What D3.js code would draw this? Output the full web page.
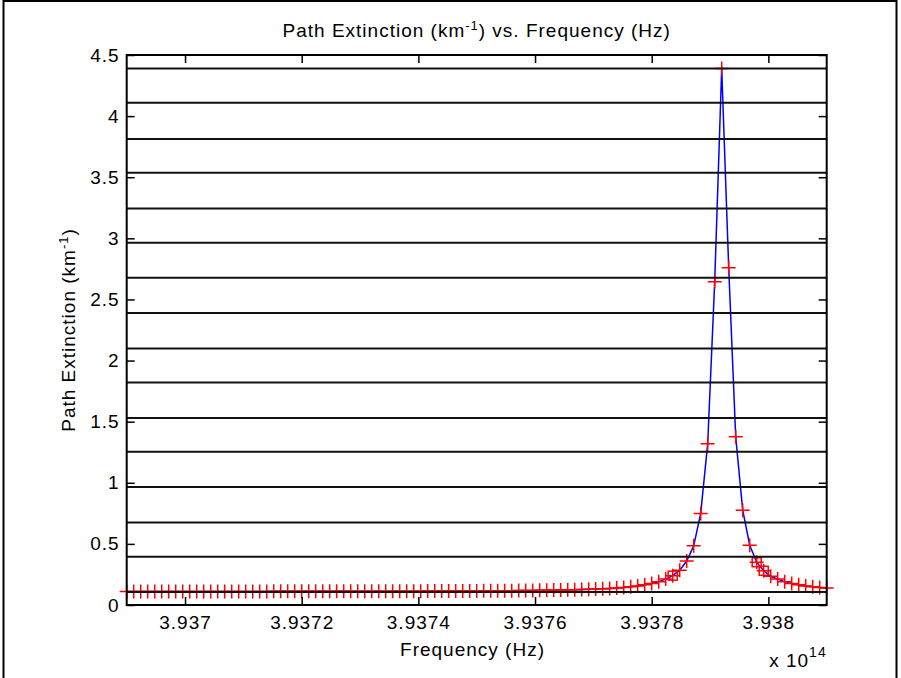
<!DOCTYPE html>
<html>
<head>
<meta charset="utf-8">
<script src="https://cdn.jsdelivr.net/npm/d3@7"></script>
<style>
  html, body { margin: 0; padding: 0; background: #fff; }
  svg { display: block; }
  text { font-family: "Liberation Sans", Arial, Helvetica, sans-serif; fill: #000; letter-spacing: 1px; }
</style>
</head>
<body>
<svg id="chart" width="901" height="678"></svg>
<script>
// ---------- data (frequencies in units of 1e14 Hz) ----------
const freqs = [
  3.936900, 3.936912, 3.936924, 3.936936, 3.936948, 3.936960, 3.936972, 3.936984, 3.936996, 3.937008,
  3.937020, 3.937032, 3.937044, 3.937056, 3.937068, 3.937080, 3.937092, 3.937104, 3.937116, 3.937128,
  3.937140, 3.937152, 3.937164, 3.937176, 3.937188, 3.937200, 3.937212, 3.937224, 3.937236, 3.937248,
  3.937260, 3.937272, 3.937284, 3.937296, 3.937308, 3.937320, 3.937332, 3.937344, 3.937356, 3.937368,
  3.937380, 3.937392, 3.937404, 3.937416, 3.937428, 3.937440, 3.937452, 3.937464, 3.937476, 3.937488,
  3.937500, 3.937512, 3.937524, 3.937536, 3.937548, 3.937560, 3.937572, 3.937584, 3.937596, 3.937608,
  3.937620, 3.937632, 3.937644, 3.937656, 3.937668, 3.937680, 3.937692, 3.937704, 3.937716, 3.937728,
  3.937740, 3.937752, 3.937764, 3.937776, 3.937788, 3.937800, 3.937812, 3.937824, 3.937836, 3.937848,
  3.937860, 3.937872, 3.937884, 3.937896, 3.937908, 3.937920, 3.937932, 3.937944, 3.937956, 3.937968,
  3.937980, 3.937992, 3.938004, 3.938016, 3.938028, 3.938040, 3.938052, 3.938064, 3.938076, 3.938088,
  3.938100
];
const extinction = [
  0.111, 0.111, 0.111, 0.111, 0.111, 0.111, 0.111, 0.111, 0.111, 0.111,
  0.111, 0.111, 0.111, 0.111, 0.111, 0.111, 0.111, 0.111, 0.111, 0.111,
  0.111, 0.112, 0.112, 0.112, 0.112, 0.112, 0.112, 0.112, 0.112, 0.112,
  0.112, 0.112, 0.112, 0.112, 0.112, 0.113, 0.113, 0.113, 0.113, 0.113,
  0.113, 0.113, 0.113, 0.114, 0.114, 0.114, 0.114, 0.115, 0.115, 0.115,
  0.115, 0.116, 0.116, 0.117, 0.117, 0.117, 0.118, 0.119, 0.119, 0.120,
  0.121, 0.122, 0.123, 0.124, 0.125, 0.127, 0.128, 0.131, 0.133, 0.136,
  0.140, 0.144, 0.149, 0.156, 0.165, 0.176, 0.191, 0.212, 0.240, 0.285,
  0.360, 0.484, 0.749, 1.320, 2.644, 4.390, 2.759, 1.376, 0.776, 0.489,
  0.350, 0.280, 0.235, 0.212, 0.191, 0.176, 0.165, 0.156, 0.149, 0.144,
  0.140
];
// a few points drawn with square markers
const squareFreqs = [3.937836, 3.937980, 3.937992];
const squareVals  = [0.240, 0.350, 0.280];
// horizontal black reference lines (values)
const refLines = [4.390, 4.109, 3.812, 3.536, 3.245, 2.963, 2.677, 2.390,
                  2.099, 1.821, 1.531, 1.253, 0.966, 0.675, 0.394, 0.107];
const xTicks = [3.937, 3.9372, 3.9374, 3.9376, 3.9378, 3.938];
const yTicks = [0, 0.5, 1, 1.5, 2, 2.5, 3, 3.5, 4, 4.5];
const xDomain = [3.9369, 3.9381];
const yDomain = [0, 4.5];

// ---------- layout ----------
const svg = d3.select("#chart");
const L = 126.7, R = 826.7, T = 55, B = 605;
const FS = 19;

const x = d3.scaleLinear().domain(xDomain).range([L, R]);
const y = d3.scaleLinear().domain(yDomain).range([B, T]);

// figure frame
svg.append("rect").attr("x", 3.5).attr("y", 1).attr("width", 893).attr("height", 700)
  .attr("fill", "#fff").attr("stroke", "#000").attr("stroke-width", 2);

// axes background
svg.append("rect").attr("x", L).attr("y", T).attr("width", R - L).attr("height", B - T)
  .attr("fill", "#fff");

const plot = svg.append("g");

// blue line
const line = d3.line().x((d, i) => x(freqs[i])).y(d => y(d));
plot.append("path").datum(extinction)
  .attr("d", line).attr("fill", "none").attr("stroke", "#0000ff").attr("stroke-width", 1.5);

// red plus markers
const P = 7;
plot.append("g").selectAll("path.plus").data(extinction).join("path")
  .attr("class", "plus")
  .attr("d", (d, i) => {
    const cx = x(freqs[i]), cy = y(d);
    return `M${cx - P},${cy}H${cx + P}M${cx},${cy - P}V${cy + P}`;
  })
  .attr("stroke", "#ff0000").attr("stroke-width", 1.5).attr("fill", "none");

// red square markers
const S = 4.5;
plot.append("g").selectAll("rect").data(squareVals).join("rect")
  .attr("x", (d, i) => x(squareFreqs[i]) - S)
  .attr("y", d => y(d) - S)
  .attr("width", 2 * S).attr("height", 2 * S)
  .attr("fill", "none").attr("stroke", "#ff0000").attr("stroke-width", 1.5);

// black horizontal reference lines (drawn on top)
plot.append("g").selectAll("line").data(refLines).join("line")
  .attr("x1", L).attr("x2", R)
  .attr("y1", d => y(d)).attr("y2", d => y(d))
  .attr("stroke", "#111").attr("stroke-width", 2);

// axes
function styleAxis(g) {
  g.select(".domain").remove();
  g.selectAll(".tick line").attr("stroke", "#000").attr("stroke-width", 1.5);
  g.selectAll("text").attr("font-size", FS).attr("font-family", "Liberation Sans, Arial, sans-serif");
}
const fmt = d => String(+d.toFixed(4));

svg.append("g").attr("transform", `translate(0,${B})`)
  .call(d3.axisBottom(x).tickValues(xTicks).tickSize(-8).tickPadding(11).tickFormat(fmt))
  .call(styleAxis);
svg.append("g").attr("transform", `translate(0,${T})`)
  .call(d3.axisTop(x).tickValues(xTicks).tickSize(-8).tickFormat(""))
  .call(styleAxis);
svg.append("g").attr("transform", `translate(${L},0)`)
  .call(d3.axisLeft(y).tickValues(yTicks).tickSize(-8).tickPadding(7).tickFormat(fmt))
  .call(styleAxis);
svg.append("g").attr("transform", `translate(${R},0)`)
  .call(d3.axisRight(y).tickValues(yTicks).tickSize(-8).tickFormat(""))
  .call(styleAxis);

// axes box
svg.append("rect").attr("x", L).attr("y", T).attr("width", R - L).attr("height", B - T)
  .attr("fill", "none").attr("stroke", "#000").attr("stroke-width", 2);

// title
const title = svg.append("text").attr("x", (L + R) / 2).attr("y", 37)
  .attr("text-anchor", "middle").attr("font-size", FS);
title.append("tspan").text("Path Extinction (km");
title.append("tspan").attr("dy", -7).attr("font-size", 13).text("-1");
title.append("tspan").attr("dy", 7).text(") vs. Frequency (Hz)");

// x label
svg.append("text").attr("x", 472.5).attr("y", 656)
  .attr("text-anchor", "middle").attr("font-size", FS).text("Frequency (Hz)");

// exponent
const ex = svg.append("text").attr("x", R).attr("y", 667)
  .attr("text-anchor", "end").attr("font-size", FS);
ex.append("tspan").text("x 10");
ex.append("tspan").attr("dy", -10).attr("font-size", 14).text("14");

// y label
const yl = svg.append("text").attr("transform", `translate(75,${(T + B) / 2}) rotate(-90)`)
  .attr("text-anchor", "middle").attr("font-size", FS);
yl.append("tspan").text("Path Extinction (km");
yl.append("tspan").attr("dy", -7).attr("font-size", 13).text("-1");
yl.append("tspan").attr("dy", 7).text(")");
</script>
</body>
</html>
